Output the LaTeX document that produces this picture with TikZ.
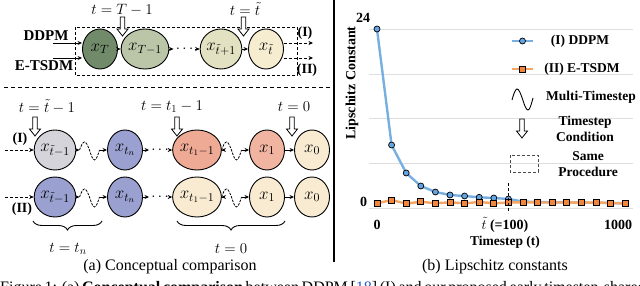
\RequirePackage{fix-cm}
\documentclass[tikz,border=0pt]{standalone}
\usepackage{fontspec}
\setmainfont{Liberation Serif}
\usetikzlibrary{shapes.geometric,arrows.meta,decorations.pathreplacing,calc}
\definecolor{cT}{RGB}{112,138,106}
\definecolor{cTa}{RGB}{187,198,168}
\definecolor{ctp}{RGB}{226,225,194}
\definecolor{ctt}{RGB}{246,237,208}
\definecolor{ccream}{RGB}{248,235,210}
\definecolor{cgray}{RGB}{212,212,218}
\definecolor{clav}{RGB}{154,160,207}
\definecolor{csal}{RGB}{239,170,150}
\definecolor{csalb}{RGB}{241,180,160}
\definecolor{bline}{RGB}{120,175,225}
\definecolor{bfill}{RGB}{100,165,225}
\definecolor{oline}{RGB}{245,165,100}
\definecolor{ofill}{RGB}{240,135,60}
\definecolor{gridc}{RGB}{222,222,222}
\definecolor{refblue}{RGB}{40,90,200}
\tikzset{
  circ/.style={ellipse, draw=black, line width=0.9pt, minimum width=35pt, minimum height=40pt, inner sep=0pt, font=\fontsize{17}{19}\selectfont},
  conn/.style={-{Stealth[length=4.5pt,width=4pt]}, line width=0.9pt},
  dconn/.style={conn, dash pattern=on 3pt off 2pt},
  mlab/.style={font=\fontsize{15}{17}\selectfont, inner sep=1pt},
  blab/.style={font=\fontsize{15}{17}\selectfont\bfseries, inner sep=1pt},
  rlab/.style={font=\fontsize{14}{16}\selectfont\bfseries, inner sep=1pt},
  leg/.style={font=\fontsize{13.5}{16.5}\selectfont\bfseries, align=center, inner sep=1pt},
  tick/.style={font=\fontsize{14}{16}\selectfont\bfseries, inner sep=1pt},
  capt/.style={font=\fontsize{16}{18}\selectfont, inner sep=0pt},
  dotsn/.style={font=\fontsize{15}{17}\selectfont, inner sep=2pt},
  wave/.style={line width=0.8pt, dash pattern=on 2.5pt off 1.2pt},
  harrow/.pic={\draw[line width=0.8pt, fill=white] (-2.2,0) -- (-2.2,12) -- (-5.5,12) -- (0,19) -- (5.5,12) -- (2.2,12) -- (2.2,0) -- cycle;},
  bln/.style={draw=bline, line width=2.4pt, line join=round},
  oln/.style={draw=oline, line width=2.4pt, line join=round},
  bmk/.style={draw=black, fill=bfill, line width=0.7pt},
  omk/.style={draw=black, fill=ofill, line width=0.7pt},
}
\begin{document}
\begin{tikzpicture}[x=1pt,y=-1pt]
\useasboundingbox (0,0) rectangle (640,286);
\clip (0,0) rectangle (640,286);

% ---------- top panel ----------
\draw[line width=0.8pt, dash pattern=on 3pt off 2pt] (75,27) rectangle (297,75);
\node[blab] (ddpm) at (46,36) {DDPM};
\node[blab] (etsdm) at (44,66) {E-TSDM};
\coordinate (in1) at (53,43);
\coordinate (in2) at (53,58);
\node[circ, fill=cT] (xT) at (100,49) {$x_T$};
\node[circ, fill=cTa] (xTa) at (145,49) {$x_{T-1}$};
\node[dotsn] (dA) at (184.5,49) {$\cdots$};
\node[circ, fill=ctp] (xtp) at (221,49) {$x_{\tilde t+1}$};
\node[circ, fill=ctt] (xt) at (266,49) {$x_{\tilde t}$};
\draw[conn] (in1) -- (in1 -| xT.west);
\draw[conn] (in2) -- (in2 -| xT.west);
\draw[conn] (xT) -- (xTa);
\draw[conn] (xTa) -- (dA);
\draw[conn] (dA) -- (xtp);
\draw[conn] (xtp) -- (xt);
\coordinate (o1) at (313,43);
\coordinate (o2) at (313,58);
\draw[dconn] (o1 -| xt.east) -- (o1);
\draw[dconn] (o2 -| xt.east) -- (o2);
\node[rlab] (lI) at (305,33) {(I)};
\node[rlab] (lII) at (307,70) {(II)};
\node[mlab] (tl1) at (122,10) {$t=T-1$};
\pic at (122.5,17) {harrow};
\node[mlab] (tl2) at (245,9) {$t=\tilde t$};
\pic at (243.5,17) {harrow};

% separator
\draw[line width=1pt, dash pattern=on 4pt off 3pt] (4,88) -- (334,88);

% ---------- bottom panel ----------
\node[circ, fill=cgray] (a1) at (55,150) {$x_{\tilde t-1}$};
\node[circ, fill=clav] (a2) at (125,150) {$x_{t_n}$};
\node[dotsn] (dI) at (160,150) {$\cdots$};
\node[circ, fill=csal] (a3) at (197,150) {$x_{t_1-1}$};
\node[circ, fill=csalb] (a4) at (267,150) {$x_1$};
\node[circ, fill=ccream] (a5) at (312,150) {$x_0$};

\node[circ, fill=clav] (b1) at (55,197) {$x_{\tilde t-1}$};
\node[circ, fill=clav] (b2) at (125,197) {$x_{t_n}$};
\node[dotsn] (dII) at (160,197) {$\cdots$};
\node[circ, fill=ccream] (b3) at (197,197) {$x_{t_1-1}$};
\node[circ, fill=ccream] (b4) at (267,197) {$x_1$};
\node[circ, fill=ccream] (b5) at (312,197) {$x_0$};

\coordinate (sI) at (5,150);
\coordinate (sII) at (5,197);
\draw[dconn] (sI) -- (a1);
\draw[dconn] (sII) -- (b1);
\node[rlab] (rI) at (20,139) {(I)};
\node[rlab] (rII) at (22,209) {(II)};

% waves row I
\coordinate (wA) at (79.5,150); \coordinate (wAe) at (99.5,150);
\coordinate (wB) at (221.5,150); \coordinate (wBe) at (241.5,150);
\draw[conn] (a1) -- (wA);
\draw[wave] (wA) sin ++(5,-8) cos ++(5,8) sin ++(5,10) cos ++(5,-10);
\draw[conn] (wAe) -- (a2);
\draw[conn] (a2) -- (dI);
\draw[conn] (dI) -- (a3);
\draw[conn] (a3) -- (wB);
\draw[wave] (wB) sin ++(5,-8) cos ++(5,8) sin ++(5,10) cos ++(5,-10);
\draw[conn] (wBe) -- (a4);
\draw[conn] (a4) -- (a5);
% waves row II
\coordinate (wC) at (79.5,197); \coordinate (wCe) at (99.5,197);
\coordinate (wD) at (221.5,197); \coordinate (wDe) at (241.5,197);
\draw[conn] (b1) -- (wC);
\draw[wave] (wC) sin ++(5,-8) cos ++(5,8) sin ++(5,10) cos ++(5,-10);
\draw[conn] (wCe) -- (b2);
\draw[conn] (b2) -- (dII);
\draw[conn] (dII) -- (b3);
\draw[conn] (b3) -- (wD);
\draw[wave] (wD) sin ++(5,-8) cos ++(5,8) sin ++(5,10) cos ++(5,-10);
\draw[conn] (wDe) -- (b4);
\draw[conn] (b4) -- (b5);

% timestep condition arrows
\node[mlab] (bl1) at (47,107) {$t=\tilde t-1$};
\pic at (35,117) {harrow};
\node[mlab] (bl2) at (172,107) {$t=t_1-1$};
\pic at (177,117) {harrow};
\node[mlab] (bl3) at (294,107) {$t=0$};
\pic at (292,117) {harrow};

% braces
\coordinate (br1s) at (33,221); \coordinate (br1e) at (102,221);
\coordinate (br2s) at (177,221); \coordinate (br2e) at (285,221);
\draw[line width=0.9pt, decorate, decoration={brace, mirror, amplitude=9pt}] (br1s) -- (br1e);
\draw[line width=0.9pt, decorate, decoration={brace, mirror, amplitude=9pt}] (br2s) -- (br2e);
\node[mlab] (bt1) at (68,249) {$t=t_n$};
\node[mlab] (bt2) at (231,249) {$t=0$};

% caption a
\node[capt] (capa) at (170,267) {(a) Conceptual comparison};

% vertical separator
\draw[line width=1.3pt] (334,0) -- (334,262);

% ---------- right panel ----------
\foreach \gy in {29,74,118,163,208} \draw[gridc, line width=0.8pt] (369,\gy) -- (633,\gy);
\node[tick, rotate=90] (ylab) at (352,83) {Lipschitz Constant};
\node[tick] (y24) at (363,18) {24};
\node[tick] (y0) at (363.5,202) {0};
\node[tick] (x0) at (377,225) {0};
\node[tick] (xm) at (505,225) {$\tilde t$ (=100)};
\node[tick] (x1000) at (618,225) {1000};
\node[font=\fontsize{13.5}{15}\selectfont\bfseries, inner sep=1pt] (xlab) at (505,242) {Timestep (t)};

\draw[bln] plot coordinates {(377,29) (391.6,145) (406.2,173) (420.8,186) (435.4,192) (450,195) (464.6,196) (479.2,197.3) (493.8,198) (508.4,199) (523,201.5) (537.6,202) (552.2,202.3) (566.8,202.5) (581.4,202.6) (596,202.8) (610.6,203) (625.2,203.2)};
\draw[oln] plot coordinates {(377,203.3) (391.6,200) (406.2,203.7) (420.8,201.7) (435.4,203.3) (450,202.3) (464.6,203.3) (479.2,202) (493.8,203.3) (508.4,202.5) (523,202.3) (537.6,202.5) (552.2,202.5) (566.8,202.5) (581.4,202.7) (596,202.5) (610.6,203) (625.2,203.5)};
\foreach \px/\py in {377/29, 391.6/145, 406.2/173, 420.8/186, 435.4/192, 450/195, 464.6/196, 479.2/197.3, 493.8/198, 508.4/199}
  \draw[bmk] (\px,\py) circle (3);
\foreach \px/\py in {377/203.3, 391.6/200, 406.2/203.7, 420.8/201.7, 435.4/203.3, 450/202.3, 464.6/203.3, 479.2/202, 493.8/203.3, 508.4/202.5, 523/202.3, 537.6/202.5, 552.2/202.5, 566.8/202.5, 581.4/202.7, 596/202.5, 610.6/203, 625.2/203.5}
  \draw[omk] (\px-3,\py-3) rectangle (\px+3,\py+3);
\draw[line width=0.8pt, dash pattern=on 3pt off 2pt] (508.4,183) -- (508.4,213);

% legend
\draw[bln] (512,41) -- (533,41);
\draw[bmk] (522.5,41) circle (3);
\node[leg] (l1) at (580,41) {(I) DDPM};
\draw[oln] (512,69) -- (533,69);
\draw[omk] (519.5,66) rectangle (525.5,72);
\node[leg] (l2) at (582,69) {(II) E-TSDM};
\draw[line width=0.9pt] (512,100) sin (517,89) cos (522.5,99) sin (528,110) cos (533,98);
\node[leg] (l3) at (591,97) {Multi-Timestep};
\pic at (522,119) {harrow};
\node[leg] (l4) at (585,129) {Timestep\\Condition};
\draw[line width=0.9pt, draw=black!70, dash pattern=on 3pt off 2pt] (510,155) rectangle (538,172);
\node[leg] (l5) at (588,164) {Same\\Procedure};

% caption b
\node[capt] (capb) at (495,267) {(b) Lipschitz constants};

% cut-off figure caption line
\node[capt, anchor=base west] (fig) at (0,292) {\makebox[640pt][s]{Figure 1: (a) \textbf{Conceptual comparison} between DDPM [\textcolor{refblue}{18}] (I) and our proposed early timestep-shared}};
\end{tikzpicture}
\end{document}
